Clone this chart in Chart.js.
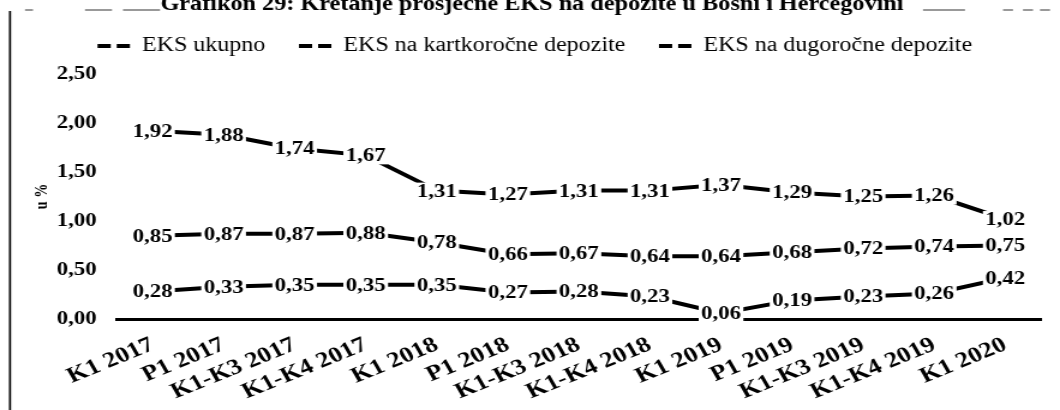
<!DOCTYPE html>
<html><head><meta charset="utf-8">
<script src="https://cdn.jsdelivr.net/npm/chart.js@4/dist/chart.umd.min.js"></script>
<style>html,body{margin:0;padding:0;background:#fff;overflow:hidden}
#c{display:block;width:1060px !important;height:410px !important}</style>
</head><body>
<canvas id="c" width="883" height="410" style="width:1060px;height:410px"></canvas>
<script>
const categories = ['K1 2017','P1 2017','K1-K3 2017','K1-K4 2017','K1 2018','P1 2018','K1-K3 2018','K1-K4 2018','K1 2019','P1 2019','K1-K3 2019','K1-K4 2019','K1 2020'];
const ukupno      = [1.92, 1.88, 1.74, 1.67, 1.31, 1.27, 1.31, 1.31, 1.37, 1.29, 1.25, 1.26, 1.02];
const kratkorocne = [0.85, 0.87, 0.87, 0.88, 0.78, 0.66, 0.67, 0.64, 0.64, 0.68, 0.72, 0.74, 0.75];
const dugorocne   = [0.28, 0.33, 0.35, 0.35, 0.35, 0.27, 0.28, 0.23, 0.06, 0.19, 0.23, 0.26, 0.42];
const seriesNames = ['EKS ukupno', 'EKS na kartkoročne depozite', 'EKS na dugoročne depozite'];
const yTickLabels = ['0,00', '0,50', '1,00', '1,50', '2,00', '2,50'];
const yAxisTitle = 'u %';
const titleText = 'Grafikon 29: Kretanje prosječne EKS na depozite u Bosni i Hercegovini';

// The scanned original is stretched horizontally; the canvas is drawn narrower and shown at 1060px.
const S = 1060 / 883;
const SERIF = "'Liberation Serif', 'Times New Roman', serif";
Chart.defaults.font.family = SERIF;
Chart.defaults.color = '#000';

const frameAndTitle = {
  id: 'frameAndTitle',
  beforeDraw(chart) {
    const ctx = chart.ctx;
    ctx.save();
    ctx.fillStyle = '#fff';
    ctx.fillRect(0, 0, chart.width, chart.height);
    ctx.strokeStyle = '#111';
    ctx.lineWidth = 1.8;
    ctx.beginPath();
    ctx.moveTo(10 / S, 11);
    ctx.lineTo(10 / S, chart.height);
    ctx.stroke();
    ctx.strokeStyle = '#777';
    ctx.lineWidth = 1.5;
    [[25,33],[85,112],[123,160],[923,965],[1003,1013],[1023,1033],[1040,1050]].forEach(s => {
      ctx.beginPath(); ctx.moveTo(s[0] / S, 10); ctx.lineTo(s[1] / S, 10); ctx.stroke();
    });
    ctx.fillStyle = '#000';
    ctx.font = 'bold 24px ' + SERIF;
    const w24 = ctx.measureText(titleText).width;
    const size = 24 * (745 / S) / w24;
    ctx.font = 'bold ' + size.toFixed(1) + 'px ' + SERIF;
    ctx.textAlign = 'center';
    ctx.textBaseline = 'alphabetic';
    ctx.fillText(titleText, 532 / S, 10);
    ctx.restore();
  }
};

const dataLabels = {
  id: 'dataLabels',
  afterDatasetsDraw(chart) {
    const ctx = chart.ctx;
    ctx.save();
    ctx.font = 'bold 19px ' + SERIF;
    ctx.textAlign = 'center';
    ctx.textBaseline = 'middle';
    chart.data.datasets.forEach((ds, di) => {
      const meta = chart.getDatasetMeta(di);
      meta.data.forEach((pt, i) => {
        const txt = ds.data[i].toFixed(2).replace('.', ',');
        const w = ctx.measureText(txt).width;
        ctx.fillStyle = '#fff';
        ctx.fillRect(pt.x - w / 2 - 2, pt.y - 8, w + 4, 17);
        ctx.fillStyle = '#000';
        ctx.fillText(txt, pt.x, pt.y + 1);
      });
    });
    ctx.restore();
  }
};

const LEG_BOX = 27;
const legendDashes = {
  id: 'legendDashes',
  afterDraw(chart) {
    const lg = chart.legend;
    if (!lg || !lg.legendHitBoxes) return;
    const ctx = chart.ctx;
    ctx.save();
    ctx.strokeStyle = '#000';
    ctx.lineWidth = 4;
    ctx.setLineDash([11, 5]);
    lg.legendHitBoxes.forEach(hb => {
      const y = hb.top + hb.height / 2;
      ctx.beginPath();
      ctx.moveTo(hb.left, y);
      ctx.lineTo(hb.left + LEG_BOX, y);
      ctx.stroke();
    });
    ctx.restore();
  }
};

const mk = (label, data) => ({
  label, data,
  borderColor: '#000',
  backgroundColor: '#000',
  borderWidth: 4,
  pointRadius: 0,
  pointHoverRadius: 0,
  tension: 0
});

new Chart(document.getElementById('c'), {
  type: 'line',
  data: {
    labels: categories,
    datasets: [mk(seriesNames[0], ukupno), mk(seriesNames[1], kratkorocne), mk(seriesNames[2], dugorocne)]
  },
  plugins: [frameAndTitle, dataLabels, legendDashes],
  options: {
    responsive: false,
    devicePixelRatio: 1,
    animation: false,
    layout: { padding: { left: 24, right: 16, top: 0, bottom: 0 } },
    plugins: {
      tooltip: { enabled: false },
      title: { display: false },
      legend: {
        display: true,
        position: 'top',
        labels: {
          usePointStyle: false,
          boxWidth: LEG_BOX,
          boxHeight: 36,
          padding: 28,
          color: '#000',
          font: { size: 20, weight: 'normal' },
          generateLabels(chart) {
            return chart.data.datasets.map((ds, i) => ({
              text: ds.label,
              fillStyle: 'rgba(0,0,0,0)',
              strokeStyle: 'rgba(0,0,0,0)',
              fontColor: '#000',
              lineWidth: 0,
              hidden: false,
              datasetIndex: i
            }));
          }
        }
      }
    },
    scales: {
      x: {
        type: 'category',
        offset: true,
        grid: { display: false, drawTicks: false },
        border: { display: true, color: '#000', width: 3 },
        ticks: {
          minRotation: 26, maxRotation: 26,
          padding: 13,
          color: '#000',
          font: { size: 22, weight: 'bold' },
          autoSkip: false
        },
        afterFit(scale) { scale.height = 91; }
      },
      y: {
        min: 0, max: 2.5,
        grid: { display: false, drawTicks: false },
        border: { display: false },
        ticks: {
          stepSize: 0.5,
          padding: 17,
          color: '#000',
          font: { size: 19, weight: 'bold' },
          callback: (v, i) => yTickLabels[i]
        },
        title: {
          display: true,
          text: yAxisTitle,
          color: '#000',
          font: { size: 14, weight: 'bold' },
          padding: { top: 3, bottom: 0 }
        },
        afterFit(scale) { scale.width = 117 / S - 24; }
      }
    }
  }
});
</script>
</body></html>
